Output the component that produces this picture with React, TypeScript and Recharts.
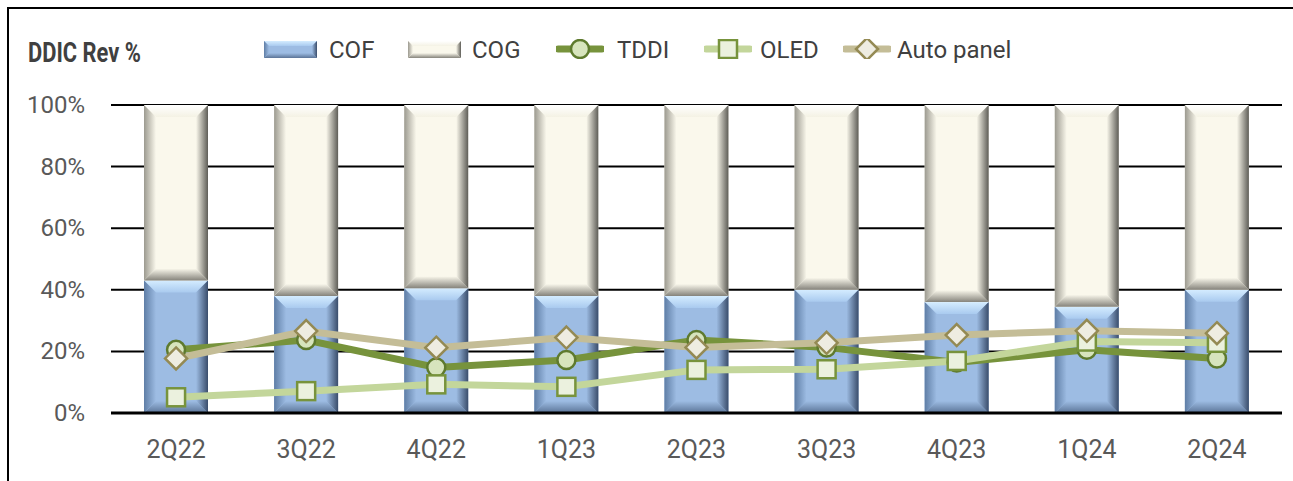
import React from "react";
import {
  Bar,
  CartesianGrid,
  ComposedChart,
  Line,
  XAxis,
  YAxis,
} from "recharts";

// DDIC revenue mix by quarter, in %
const quarters = ["2Q22", "3Q22", "4Q22", "1Q23", "2Q23", "3Q23", "4Q23", "1Q24", "2Q24"];
const cofShare = [43, 38, 40.5, 38, 38, 40, 36, 34.5, 40];
const cogShare = [57, 62, 59.5, 62, 62, 60, 64, 65.5, 60];
const tddiShare = [20.5, 23.7, 14.8, 17.2, 23.7, 21.3, 16.4, 20.5, 17.7];
const oledShare = [5.1, 7.1, 9.3, 8.5, 14, 14.2, 16.9, 23.2, 22.8];
const autoShare = [17.7, 26.6, 21.2, 24.5, 21.3, 22.8, 25.3, 26.7, 25.9];
const yTicks = [0, 20, 40, 60, 80, 100];

const FONT = "Roboto, 'Open Sans', sans-serif";

const rows = quarters.map((q, i) => ({
  quarter: q,
  cof: cofShare[i],
  cog: cogShare[i],
  tddi: tddiShare[i],
  oled: oledShare[i],
  auto: autoShare[i],
}));

type Palette = {
  id: string;
  base: string;
  topA: string;
  topB: string;
  side: string;
  right: string;
  bottom: string;
};

const COF_PAL: Palette = {
  id: "cof",
  base: "#9DBCE3",
  topA: "#D4ECFF",
  topB: "#A9CAEF",
  side: "#5F7EA6",
  right: "#3A4D6B",
  bottom: "#5B7497",
};

const COG_PAL: Palette = {
  id: "cog",
  base: "#FAF8EC",
  topA: "#FFFFFF",
  topB: "#F4F2E4",
  side: "#9C9A90",
  right: "#5E5D57",
  bottom: "#85837B",
};

function BevelDefs({ pal }: { pal: Palette }) {
  return (
    <defs>
      <linearGradient id={`${pal.id}-top`} x1="0" y1="0" x2="0" y2="1">
        <stop offset="0" stopColor={pal.topA} />
        <stop offset="1" stopColor={pal.topB} />
      </linearGradient>
      <linearGradient id={`${pal.id}-left`} x1="0" y1="0" x2="1" y2="0">
        <stop offset="0" stopColor={pal.side} />
        <stop offset="1" stopColor={pal.base} />
      </linearGradient>
      <linearGradient id={`${pal.id}-right`} x1="1" y1="0" x2="0" y2="0">
        <stop offset="0" stopColor={pal.right} />
        <stop offset="1" stopColor={pal.base} />
      </linearGradient>
      <linearGradient id={`${pal.id}-bottom`} x1="0" y1="1" x2="0" y2="0">
        <stop offset="0" stopColor={pal.bottom} />
        <stop offset="1" stopColor={pal.base} />
      </linearGradient>
    </defs>
  );
}

// rectangle with an Excel-like bevel
function bevelRect(x: number, y: number, w: number, h: number, pal: Palette, bev = 12) {
  if (!(h > 0) || !(w > 0)) return null;
  const b = Math.min(bev, h / 2, w / 2);
  const pts = (a: number[][]) => a.map((p) => p.join(",")).join(" ");
  return (
    <g>
      <rect x={x} y={y} width={w} height={h} fill={pal.base} />
      <polygon
        points={pts([[x, y], [x + w, y], [x + w - b, y + b], [x + b, y + b]])}
        fill={`url(#${pal.id}-top)`}
      />
      <polygon
        points={pts([[x, y + h], [x + w, y + h], [x + w - b, y + h - b], [x + b, y + h - b]])}
        fill={`url(#${pal.id}-bottom)`}
      />
      <polygon
        points={pts([[x, y], [x + b, y + b], [x + b, y + h - b], [x, y + h]])}
        fill={`url(#${pal.id}-left)`}
      />
      <polygon
        points={pts([[x + w, y], [x + w - b, y + b], [x + w - b, y + h - b], [x + w, y + h]])}
        fill={`url(#${pal.id}-right)`}
      />
    </g>
  );
}

const cofShape = (p: any) => bevelRect(p.x, p.y, p.width, p.height, COF_PAL);
const cogShape = (p: any) => bevelRect(p.x, p.y, p.width, p.height, COG_PAL);

const circleDot = (p: any) => (
  <circle
    key={`c-${p.index}`}
    cx={p.cx}
    cy={p.cy}
    r={9}
    fill="#D7E4BD"
    stroke="#5E7A2E"
    strokeWidth={2.5}
  />
);

const squareDot = (p: any) => (
  <rect
    key={`s-${p.index}`}
    x={p.cx - 9}
    y={p.cy - 9}
    width={18}
    height={18}
    fill="#EBF1DE"
    stroke="#77933C"
    strokeWidth={2.5}
  />
);

const diamondDot = (p: any) => (
  <polygon
    key={`d-${p.index}`}
    points={`${p.cx},${p.cy - 11} ${p.cx + 11},${p.cy} ${p.cx},${p.cy + 11} ${p.cx - 11},${p.cy}`}
    fill="#EEECE1"
    stroke="#948A54"
    strokeWidth={2.5}
  />
);

function LineSwatch({ color, marker }: { color: string; marker: "circle" | "square" | "diamond" }) {
  const cx = 24;
  const cy = 10;
  return (
    <svg width={48} height={20} style={{ display: "block" }}>
      <line x1={2} y1={cy} x2={46} y2={cy} stroke={color} strokeWidth={7} strokeLinecap="round" />
      {marker === "circle" && circleDot({ cx, cy, index: 0 })}
      {marker === "square" && squareDot({ cx, cy, index: 0 })}
      {marker === "diamond" && diamondDot({ cx, cy, index: 0 })}
    </svg>
  );
}

function BarSwatch({ pal }: { pal: Palette }) {
  return (
    <svg width={53} height={17} style={{ display: "block" }}>
      <BevelDefs pal={pal} />
      {bevelRect(0, 0, 53, 17, pal, 5)}
    </svg>
  );
}

const legendItems = [
  { label: "COF", left: 264, textLeft: 329, swatch: <BarSwatch pal={COF_PAL} /> },
  { label: "COG", left: 408, textLeft: 472, swatch: <BarSwatch pal={COG_PAL} /> },
  { label: "TDDI", left: 556, textLeft: 617, swatch: <LineSwatch color="#77933C" marker="circle" /> },
  { label: "OLED", left: 704, textLeft: 760, swatch: <LineSwatch color="#C3D69B" marker="square" /> },
  { label: "Auto panel", left: 843, textLeft: 897, swatch: <LineSwatch color="#C4BD97" marker="diamond" /> },
];

function YTick(props: any) {
  const { x, y, payload } = props;
  return (
    <text x={x} y={y} dy={8} textAnchor="end" fill="#595959" fontSize={24} fontFamily={FONT}>
      {`${payload.value}%`}
    </text>
  );
}

function XTick(props: any) {
  const { x, y, payload } = props;
  return (
    <text x={x} y={y} dy={17} textAnchor="middle" fill="#595959" fontSize={25} fontFamily={FONT}>
      {payload.value}
    </text>
  );
}

export default function App() {
  return (
    <div
      style={{
        position: "absolute",
        left: 0,
        top: 0,
        width: 1293,
        height: 481,
        background: "#fff",
        overflow: "hidden",
        fontFamily: FONT,
      }}
    >
      {/* frame */}
      <div
        style={{
          position: "absolute",
          left: 7,
          top: 7,
          width: 1300,
          height: 490,
          borderTop: "2.5px solid #000",
          borderLeft: "2.5px solid #000",
        }}
      />

      <div
        style={{
          position: "absolute",
          left: 28,
          top: 39,
          fontSize: 28,
          lineHeight: "28px",
          fontWeight: 700,
          color: "#404040",
          whiteSpace: "nowrap",
          transform: "scaleX(0.78)",
          transformOrigin: "left top",
        }}
      >
        DDIC Rev %
      </div>

      {legendItems.map((it) => (
        <React.Fragment key={it.label}>
          <div style={{ position: "absolute", left: it.left, top: it.label === "COF" || it.label === "COG" ? 41 : 39 }}>
            {it.swatch}
          </div>
          <div
            style={{
              position: "absolute",
              left: it.textLeft,
              top: 35,
              fontSize: 24,
              lineHeight: "30px",
              color: "#404040",
              whiteSpace: "nowrap",
            }}
          >
            {it.label}
          </div>
        </React.Fragment>
      ))}

      <ComposedChart
        width={1293}
        height={481}
        data={rows}
        margin={{ top: 105, right: 11, bottom: 28, left: 11 }}
        style={{ position: "absolute", left: 0, top: 0 }}
      >
        <BevelDefs pal={COF_PAL} />
        <BevelDefs pal={COG_PAL} />
        <CartesianGrid vertical={false} stroke="#000" strokeWidth={2} />
        <XAxis
          dataKey="quarter"
          height={40}
          tickSize={0}
          tickMargin={28}
          tick={<XTick />}
          axisLine={{ stroke: "#000", strokeWidth: 3 }}
          tickLine={false}
          interval={0}
        />
        <YAxis
          domain={[0, 100]}
          ticks={yTicks}
          width={100}
          tickSize={0}
          tickMargin={26}
          tick={<YTick />}
          axisLine={false}
          tickLine={false}
        />
        <Bar dataKey="cof" stackId="mix" barSize={64} shape={cofShape} isAnimationActive={false} />
        <Bar dataKey="cog" stackId="mix" barSize={64} shape={cogShape} isAnimationActive={false} />
        <Line
          dataKey="tddi"
          stroke="#77933C"
          strokeWidth={7}
          dot={circleDot}
          activeDot={false}
          isAnimationActive={false}
        />
        <Line
          dataKey="oled"
          stroke="#C3D69B"
          strokeWidth={7}
          dot={squareDot}
          activeDot={false}
          isAnimationActive={false}
        />
        <Line
          dataKey="auto"
          stroke="#C4BD97"
          strokeWidth={7}
          dot={diamondDot}
          activeDot={false}
          isAnimationActive={false}
        />
      </ComposedChart>
    </div>
  );
}
